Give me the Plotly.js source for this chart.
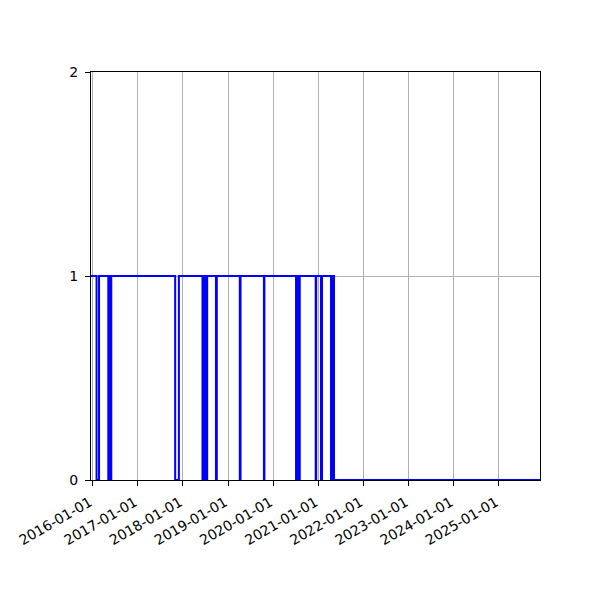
<!DOCTYPE html>
<html>
<head>
<meta charset="utf-8">
<script src="https://cdn.plot.ly/plotly-3.0.1.min.js"></script>
<style>
    html, body { margin: 0; padding: 0; background: #fff; }
    #chart { width: 600px; height: 600px; }
</style>
</head>
<body>
<div id="chart"></div>
<script>
// dates where the state flips, and the state from then on
const changeDates = [
    "2015-12-19", "2016-02-02", "2016-02-22", "2016-05-07", "2016-05-17",
    "2016-05-21", "2016-05-31", "2017-10-30", "2017-11-29", "2018-06-08",
    "2018-06-18", "2018-06-24", "2018-07-02", "2018-07-08", "2018-07-16",
    "2018-09-25", "2018-10-02", "2019-04-06", "2019-04-12", "2019-10-18",
    "2019-10-22", "2020-07-04", "2020-07-14", "2020-07-22", "2020-08-03",
    "2020-12-10", "2020-12-14", "2021-01-22", "2021-01-30", "2021-04-13",
    "2021-04-29", "2021-05-07", "2025-11-29"
];
const states = [
    1, 0, 1, 0, 1,
    0, 1, 0, 1, 0,
    1, 0, 1, 0, 1,
    0, 1, 0, 1, 0,
    1, 0, 1, 0, 1,
    0, 1, 0, 1, 0,
    1, 0, 0
];
const yTicks = [0, 1, 2];

const axisFont = { family: "DejaVu Sans, sans-serif", size: 14, color: "#000" };

const trace = {
    x: changeDates,
    y: states,
    type: "scatter",
    mode: "lines",
    line: { shape: "hv", color: "#0000ff", width: 2 },
    hoverinfo: "x+y"
};

const layout = {
    width: 600,
    height: 600,
    paper_bgcolor: "#fff",
    plot_bgcolor: "#fff",
    showlegend: false,
    margin: { l: 91, r: 60, t: 72, b: 120, pad: 0 },
    font: axisFont,
    xaxis: {
        type: "date",
        range: [changeDates[0], changeDates[changeDates.length - 1]],
        tick0: "2016-01-01",
        dtick: "M12",
        tickformat: "%Y-%m-%d",
        tickangle: -30,
        ticklabelshift: -3,
        ticklabelstandoff: 3,
        ticks: "outside",
        ticklen: 5,
        tickwidth: 1,
        tickcolor: "#000",
        showgrid: true,
        gridcolor: "#b0b0b0",
        gridwidth: 1,
        zeroline: false,
        showline: true,
        linecolor: "#000",
        linewidth: 1,
        mirror: true,
        layer: "below traces",
        tickfont: axisFont
    },
    yaxis: {
        range: [0, 2],
        tickvals: yTicks,
        ticktext: yTicks.map(String),
        ticklabelstandoff: 4,
        ticks: "outside",
        ticklen: 5,
        tickwidth: 1,
        tickcolor: "#000",
        showgrid: true,
        gridcolor: "#b0b0b0",
        gridwidth: 1,
        zeroline: false,
        showline: true,
        linecolor: "#000",
        linewidth: 1,
        mirror: true,
        layer: "below traces",
        tickfont: axisFont
    }
};

Plotly.newPlot("chart", [trace], layout, { displayModeBar: false, staticPlot: true });
</script>
</body>
</html>
